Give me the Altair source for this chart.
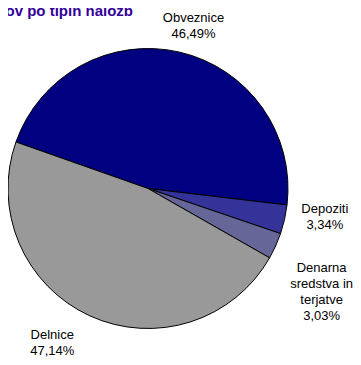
import math
import altair as alt
import pandas as pd

# ---- data ----
categories = ["Obveznice", "Depoziti", "Denarna sredstva in terjatve", "Delnice"]
values = [46.49, 3.34, 3.03, 47.14]
labels = ["Obveznice\n46,49%", "Depoziti\n3,34%", "Denarna\nsredstva in\nterjatve\n3,03%", "Delnice\n47,14%"]
title_text = "ov po tipih naložb"

# ---- style (label placement of the first text line, polar around pie centre) ----
colors = ["#000080", "#333399", "#666699", "#999999"]
label_radius = {"Obveznice": 176, "Depoziti": 178, "Denarna sredstva in terjatve": 191, "Delnice": 174.6}
label_angle_shift_deg = {"Obveznice": 1.9, "Depoziti": -6.2, "Denarna sredstva in terjatve": 0.4, "Delnice": 8.7}
start = math.radians(-70.6)
CX, CY, R = 140, 180.5, 140
FONT = "Liberation Sans"

df = pd.DataFrame({
    "category": categories,
    "value": values,
    "idx": list(range(len(categories))),
    "label": labels,
    "lr": [label_radius[c] for c in categories],
    "shift": [label_angle_shift_deg[c] / 3.6 for c in categories],
})

theta_scale = alt.Scale(domain=[0, 100], range=[start, start + 2 * math.pi])

base = alt.Chart(df)

arcs = base.mark_arc(x=CX, y=CY, radius=R, stroke="black", strokeWidth=1).encode(
    theta=alt.Theta("value:Q", stack=True, scale=theta_scale),
    order=alt.Order("idx:Q"),
    color=alt.Color("category:N", scale=alt.Scale(domain=categories, range=colors), legend=None),
)

texts = base.transform_window(
    cum="sum(value)", sort=[alt.SortField("idx", order="ascending")], frame=[None, 0]
).transform_calculate(
    mid="datum.cum - datum.value / 2 + datum.shift"
).mark_text(
    x=CX, y=CY, font=FONT, fontSize=13, lineBreak="\n", lineHeight=16,
    align="center", baseline="middle", color="black"
).encode(
    theta=alt.Theta("mid:Q", scale=theta_scale, stack=None),
    radius=alt.Radius("lr:Q", scale=None),
    text="label:N",
)

title = alt.Chart(pd.DataFrame({"t": [title_text]})).mark_text(
    font=FONT, fontSize=15, fontWeight="bold", color="#330099",
    align="right", baseline="alphabetic"
).encode(x=alt.value(125), y=alt.value(8), text="t:N")

chart = alt.layer(arcs, texts, title).properties(
    width=345, height=349, autosize=alt.AutoSizeParams(type="none"), padding=0
).configure_view(stroke=None)

chart.save("out.html", embed_options={"renderer": "svg", "actions": False})
